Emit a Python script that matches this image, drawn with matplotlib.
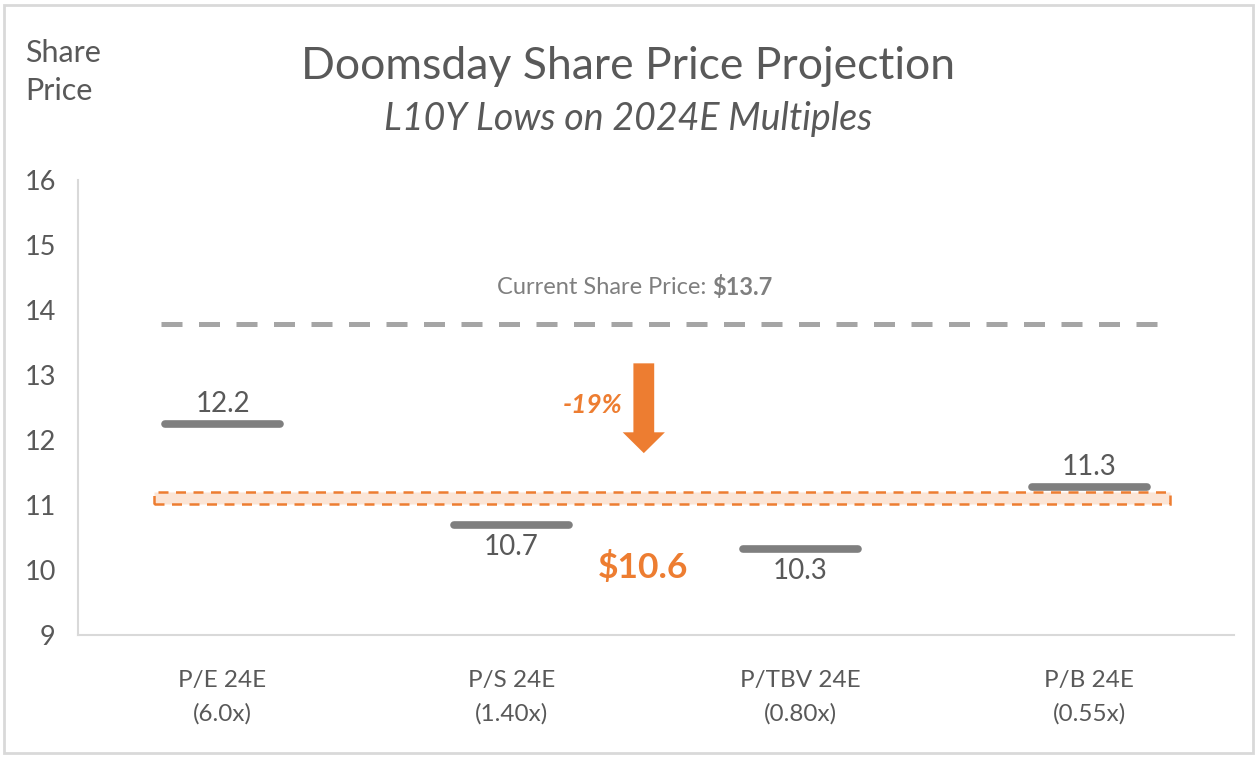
import numpy as np
import matplotlib.pyplot as plt
from matplotlib.patches import Rectangle

plt.rcParams['font.family'] = ['Lato', 'DejaVu Sans']

# data
categories = ['P/E 24E', 'P/S 24E', 'P/TBV 24E', 'P/B 24E']
multiples = ['(6.0x)', '(1.40x)', '(0.80x)', '(0.55x)']
prices = [12.25, 10.70, 10.33, 11.28]
label_side = ['above', 'below', 'below', 'above']
current_price = 13.78
current_label = '13.7'
band_low, band_high = 11.02, 11.21
target_label = '$10.6'
drop_label = '-19%'
arrow_top, arrow_tip = 13.18, 11.80

GRAY = '#7f7f7f'
TEXT = '#595959'
ORANGE = '#ed7d31'
BAND = '#fbe5d6'
AXIS = '#d9d9d9'

fig = plt.figure(figsize=(12.59, 7.59), dpi=100)
ax = fig.add_axes([0.062, 0.163, 0.918, 0.6])

x = np.arange(len(categories))
half = 0.2

# orange band
ax.add_patch(Rectangle((-0.237, band_low), 3.517, band_high - band_low,
                       facecolor=BAND, edgecolor=ORANGE, lw=1.8,
                       linestyle=(0, (4, 3)), zorder=1))

# current price line
ax.plot([-0.213, 3.265], [current_price, current_price], color='#a5a5a5',
        lw=3.6, dashes=(4.2, 3.3), zorder=2)
t1 = ax.text(0.95, 14.35, 'Current Share Price: ', ha='left', va='center',
             fontsize=17, color=GRAY)
ax.annotate('$' + current_label, xy=(1, 0.5), xycoords=t1, ha='left',
            va='center', fontsize=17, color=GRAY, fontweight='bold')

# price markers
for xi, p, side in zip(x, prices, label_side):
    ax.plot([xi - half, xi + half], [p, p], color=GRAY, lw=5.5,
            solid_capstyle='round', zorder=3)
    dy = 20 if side == 'above' else -22
    ax.annotate(f'{p:.1f}', xy=(xi, p), xytext=(0, dy),
                textcoords='offset pixels', ha='center', va='center',
                fontsize=20, color=TEXT, zorder=4)

# arrow
ax.arrow(1.458, arrow_top, 0, arrow_tip - arrow_top, width=0.072,
         head_width=0.146, head_length=0.32, length_includes_head=True,
         color=ORANGE, lw=0, zorder=4)
ax.text(1.28, 12.54, drop_label, ha='center', va='center', fontsize=19,
        color=ORANGE, fontweight='bold', style='italic')
ax.text(1.455, 10.04, target_label, ha='center', va='center', fontsize=25.5,
        color=ORANGE, fontweight='bold')

ax.set_xlim(-0.5, 3.5)
ax.set_ylim(9, 16)
ax.set_yticks(range(9, 17))
ax.set_xticks(x)
ax.set_xticklabels([c + '\n' + m for c, m in zip(categories, multiples)],
                   linespacing=1.7)
ax.tick_params(axis='y', length=0, pad=16, labelsize=19.5, labelcolor=TEXT)
ax.tick_params(axis='x', length=0, pad=25, labelsize=17.5, labelcolor=TEXT)
for s in ['top', 'right']:
    ax.spines[s].set_visible(False)
for s in ['left', 'bottom']:
    ax.spines[s].set_color(AXIS)
    ax.spines[s].set_linewidth(1.5)

fig.text(0.499, 0.913, 'Doomsday Share Price Projection', ha='center',
         va='center', fontsize=32, color=TEXT)
fig.text(0.499, 0.843, 'L10Y Lows on 2024E Multiples', ha='center',
         va='center', fontsize=27, color=TEXT, style='italic')
fig.text(0.02, 0.905, 'Share\nPrice', ha='left', va='center', fontsize=22,
         color=TEXT, linespacing=1.45)

fig.patches.append(Rectangle((0.003, 0.008), 0.992, 0.985,
                             transform=fig.transFigure, fill=False,
                             edgecolor=AXIS, lw=2))

fig.savefig('out.png', dpi=100)
